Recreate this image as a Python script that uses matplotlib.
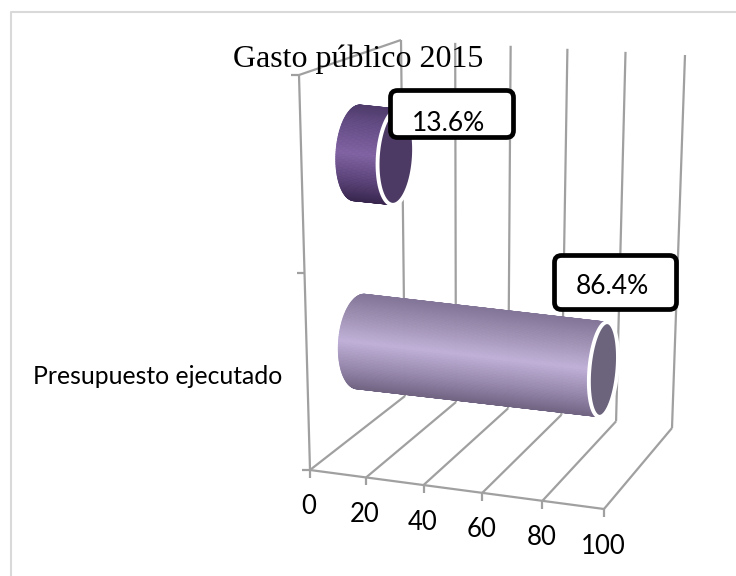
import numpy as np
import matplotlib
matplotlib.use("Agg")
import matplotlib.pyplot as plt
from matplotlib.collections import PolyCollection
from matplotlib.patches import Polygon, FancyBboxPatch

# ---- data ----
title = "Gasto público 2015"
categories = ["Presupuesto ejecutado", ""]
values = [86.4, 13.6]
value_labels = ["86.4%", "13.6%"]
axis_ticks = [0, 20, 40, 60, 80, 100]

# ---- projection of the 3D box (value, depth, height) to figure pixels ----
FB0, FB1 = np.array([310., 470.]), np.array([604., 509.])
BB0, BB1 = np.array([405., 396.]), np.array([672., 428.])
FT0, FT1 = np.array([299., 75.]), np.array([590., 100.])
BT0, BT1 = np.array([401., 40.]), np.array([685., 55.])


def persp(v):
    t = v / 100.0
    return t / (1.06 - 0.06 * t)


def P(v, d=0.0, h=0.0):
    t = persp(v)
    bot0 = FB0 + (BB0 - FB0) * d
    bot1 = FB1 + (BB1 - FB1) * d
    top0 = FT0 + (BT0 - FT0) * d
    top1 = FT1 + (BT1 - FT1) * d
    p0 = bot0 + (top0 - bot0) * h
    p1 = bot1 + (top1 - bot1) * h
    return p0 + (p1 - p0) * t


fig = plt.figure(figsize=(7.36, 5.76), dpi=100, facecolor="white")
ax = fig.add_axes([0, 0, 1, 1])
ax.set_xlim(0, 736)
ax.set_ylim(576, 0)
ax.axis("off")

# frame: left and top edges only, right/bottom fall outside the crop
ax.plot([11, 11, 736], [576, 12, 12], color="#d9d9d9", lw=1.5, zorder=0)

GRID = "#a0a0a0"
LW = 1.6


def seg(a, b):
    ax.plot([a[0], b[0]], [a[1], b[1]], color=GRID, lw=LW, solid_capstyle="butt", zorder=1)


# walls and floor
for v in axis_ticks:
    seg(P(v, 0, 0), P(v, 1, 0))
    seg(P(v, 1, 0), P(v, 1, 1))
    f = P(v, 0, 0)
    seg(f, f + np.array([0, 8]))
seg(P(0, 0, 0), P(100, 0, 0))
seg(P(0, 0, 0), P(0, 0, 1))
seg(P(0, 0, 1), P(0, 1, 1))
for h in (0, 0.5, 1):
    p = P(0, 0, h)
    seg(p, p + np.array([-8, 0]))


def ramp(stops, s):
    xs = [q[0] for q in stops]
    return [np.interp(s, xs, [q[1][i] for q in stops]) / 255 for i in range(3)]


def cylinder(v, h, stops, face, semi_a, b0, b1, tilt):
    c0 = P(0, 0.55, h)
    c1 = P(v, 0.55, h) + np.array([2.0, 1.0])
    u = np.array([np.sin(tilt), -np.cos(tilt)])   # along the major axis, upwards
    w = np.array([-np.cos(tilt), -np.sin(tilt)])  # along the minor axis, to the left
    th = np.linspace(-np.pi / 2, np.pi / 2, 91)

    def ell(c, a, b):
        return c + np.outer(semi_a * np.sin(a), u) + np.outer(b * np.cos(a), w)

    s, e = ell(c0, th, b0), ell(c1, th, b1)
    polys, cols = [], []
    for i in range(len(th) - 1):
        polys.append([s[i], s[i + 1], e[i + 1], e[i]])
        cols.append(ramp(stops, np.sin((th[i] + th[i + 1]) / 2)))
    ax.add_collection(PolyCollection(polys, facecolors=cols, edgecolors=cols, linewidths=0.6, zorder=2))
    a = np.linspace(0, 2 * np.pi, 121)
    ax.add_patch(Polygon(ell(c1, a, b1), closed=True, fc=face, ec="white", lw=2.8, zorder=3))


light = [(-1, (112, 100, 130)), (-0.55, (150, 135, 172)), (0.0, (192, 176, 216)),
         (0.5, (160, 146, 180)), (1, (132, 118, 152))]
dark = [(-1, (56, 38, 78)), (-0.55, (90, 66, 120)), (0.0, (128, 98, 162)),
        (0.6, (100, 76, 134)), (1, (80, 60, 108))]
cylinder(values[0], 0.235, light, "#6c637c", 47.5, 22, 14, np.radians(5))
cylinder(values[1], 0.74, dark, "#4c3a64", 48, 21, 18, np.radians(4))

# text
ax.text(358, 59, title, family="Liberation Serif", fontsize=23, ha="center", va="center", zorder=5)
ax.text(157.5, 376, categories[0], family="Lato", fontsize=17.8, ha="center", va="center", zorder=5)
for v in axis_ticks:
    p = P(v, 0, 0)
    ax.text(p[0] - 1, p[1] + 37, str(v), family="Lato", fontsize=18.5, ha="center", va="center", zorder=5)


def box(x0, y0, x1, y1, label, dy):
    r = 7
    ax.add_patch(FancyBboxPatch((x0 + r, y0 + r), x1 - x0 - 2 * r, y1 - y0 - 2 * r,
                                boxstyle=f"round,pad={r},rounding_size={r}",
                                fc="white", ec="black", lw=3.4, zorder=6))
    ax.text((x0 + x1) / 2 - 3.5, (y0 + y1) / 2 + dy, label, family="Lato", fontsize=19,
            ha="center", va="center", zorder=7)


box(390.5, 90.5, 513.5, 137.5, value_labels[1], 9.5)
box(554.5, 255.5, 676.5, 309.5, value_labels[0], 4.5)

fig.savefig("out.png", dpi=100)
